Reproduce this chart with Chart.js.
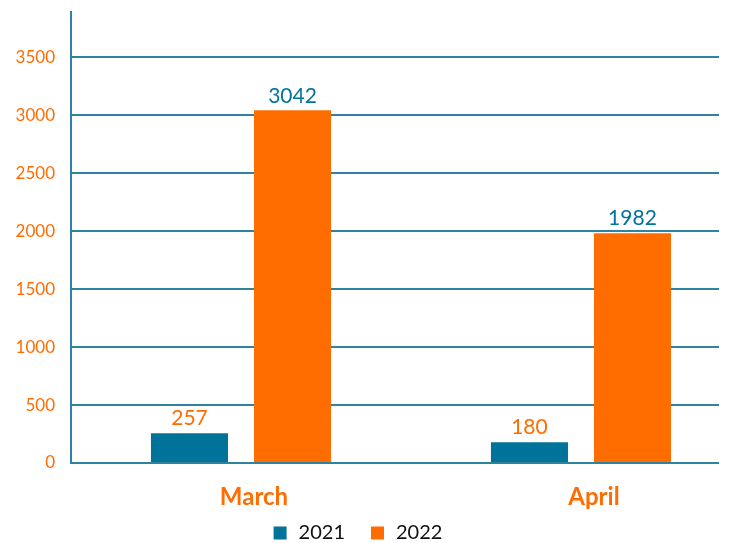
<!DOCTYPE html>
<html>
<head>
<meta charset="utf-8">
<title>March / April</title>
<script src="https://cdn.jsdelivr.net/npm/chart.js@4/dist/chart.umd.min.js"></script>
<style>
  html, body { margin: 0; padding: 0; background: #fff; }
  #wrap { width: 729px; height: 543px; position: relative; }
</style>
</head>
<body>
<div id="wrap"><canvas id="barChart"></canvas></div>
<script>
// data
const months = ['March', 'April'];
const values2021 = [257, 180];
const values2022 = [3042, 1982];
const yTicks = [0, 500, 1000, 1500, 2000, 2500, 3000, 3500];

const teal = '#00739a';
const orange = '#ff6c00';
const gridTeal = '#2f83a0';
const fontName = 'Lato, "Open Sans", sans-serif';

// numbers above the bars
const valueLabels = {
  id: 'valueLabels',
  afterDatasetsDraw(chart) {
    const ctx = chart.ctx;
    ctx.save();
    ctx.font = '21px ' + fontName;
    ctx.textAlign = 'center';
    ctx.textBaseline = 'bottom';
    chart.data.datasets.forEach((ds, i) => {
      chart.getDatasetMeta(i).data.forEach((bar, j) => {
        ctx.fillStyle = ds.labelColor;
        ctx.fillText(ds.data[j].y, bar.x, bar.y - 4);
      });
    });
    ctx.restore();
  }
};

// legend under the month names (built-in one would clip them)
const bottomLegend = {
  id: 'bottomLegend',
  afterDraw(chart) {
    const ctx = chart.ctx;
    ctx.save();
    ctx.font = '20px ' + fontName;
    ctx.textBaseline = 'middle';
    const box = 13, gap = 12, spacing = 26, y = 533;
    const items = chart.data.datasets.map(ds => ({ text: ds.label, color: ds.backgroundColor, w: ctx.measureText(ds.label).width }));
    let total = items.reduce((s, it) => s + box + gap + it.w, 0) + spacing * (items.length - 1);
    let x = 358 - total / 2;
    items.forEach(it => {
      ctx.fillStyle = it.color;
      ctx.fillRect(x, y - box / 2, box, box);
      x += box + gap;
      ctx.fillStyle = '#111';
      ctx.fillText(it.text, x, y);
      x += it.w + spacing;
    });
    ctx.restore();
  }
};

const ctx = document.getElementById('barChart').getContext('2d');
const barChart = new Chart(ctx, {
  type: 'bar',
  data: {
    datasets: [{
      label: '2021',
      data: months.map((m, i) => ({ x: i, y: values2021[i] })),
      backgroundColor: teal,
      labelColor: orange
    }, {
      label: '2022',
      data: months.map((m, i) => ({ x: i, y: values2022[i] })),
      backgroundColor: orange,
      labelColor: teal
    }]
  },
  options: {
    responsive: true,
    maintainAspectRatio: false,
    animation: false,
    categoryPercentage: 0.606,
    barPercentage: 0.748,
    layout: { padding: { top: 12, right: 10, left: 0, bottom: 0 } },
    plugins: {
      tooltip: { enabled: false },
      legend: { display: false }
    },
    scales: {
      x: {
        type: 'linear',
        offset: false,
        min: -0.5,
        max: 1.406,
        afterBuildTicks: s => { s.ticks = months.map((m, i) => ({ value: i })); },
        afterFit: s => { s.height = 80; },
        grid: { display: false },
        border: { display: false },
        ticks: {
          color: orange,
          font: { family: fontName, size: 24, weight: 'bold' },
          padding: 12,
          labelOffset: 13,
          callback: v => months[v]
        }
      },
      y: {
        min: 0,
        max: 3890,
        afterBuildTicks: s => { s.ticks = yTicks.map(v => ({ value: v })); },
        afterFit: s => { s.width = 71; s.paddingTop = 0; s.paddingBottom = 0; },
        grid: { color: gridTeal, lineWidth: 2, drawTicks: false },
        border: { color: gridTeal, width: 2 },
        ticks: {
          color: orange,
          font: { family: fontName, size: 17 },
          padding: 16,
          callback: v => String(v)
        }
      }
    }
  },
  plugins: [valueLabels, bottomLegend]
});
</script>
</body>
</html>
